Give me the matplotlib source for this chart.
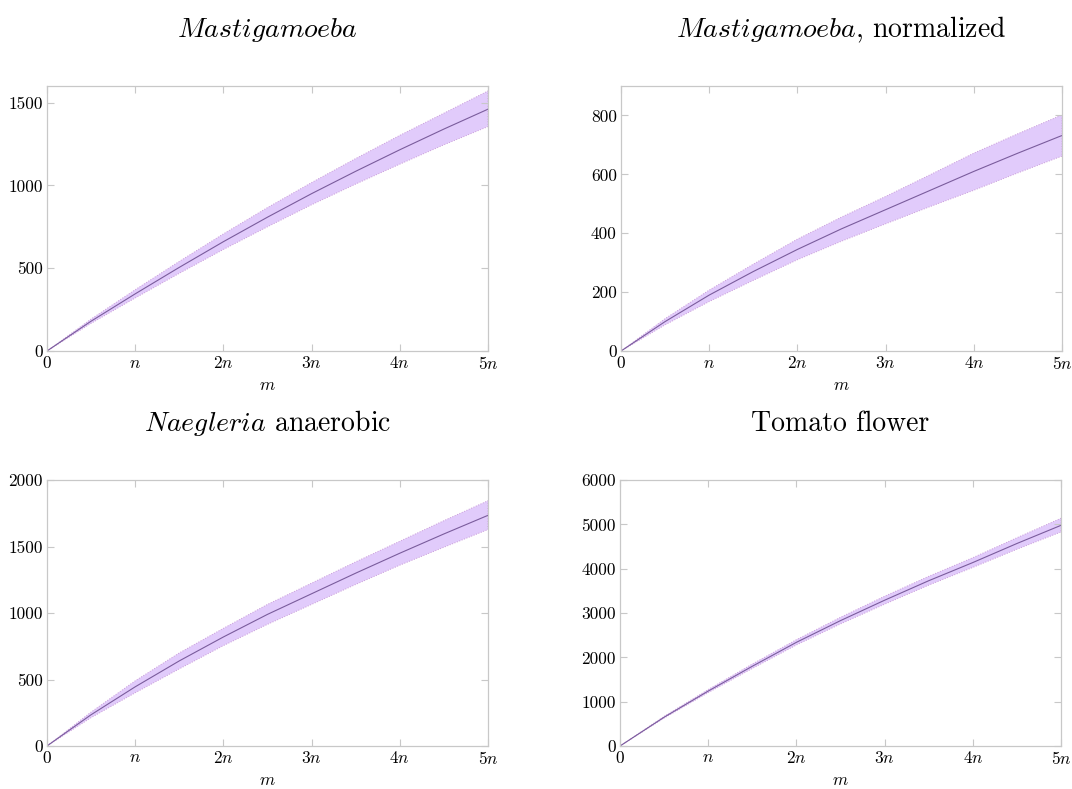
"""Expected count growth against m for four datasets, with spread bands."""

import matplotlib

matplotlib.use("Agg")
import matplotlib.pyplot as plt
from matplotlib.ticker import FuncFormatter, MultipleLocator

plt.rcParams["font.family"] = "cmr10"
plt.rcParams["mathtext.fontset"] = "cm"
plt.rcParams["axes.unicode_minus"] = False

# m measured in multiples of n
M = [0, 0.5, 1, 1.5, 2, 2.5, 3, 3.5, 4, 4.5, 5]

MASTI_MEAN = [0, 180, 345, 505, 660, 808, 950, 1085, 1215, 1340, 1460]
MASTI_HI = [0, 193, 370, 541, 707, 866, 1017, 1162, 1302, 1436, 1570]
MASTI_LO = [0, 167, 320, 469, 613, 750, 883, 1008, 1128, 1245, 1355]

NORM_MEAN = [0, 100, 190, 270, 345, 415, 480, 545, 610, 672, 732]
NORM_HI = [0, 110, 207, 295, 380, 455, 525, 598, 672, 738, 802]
NORM_LO = [0, 89, 168, 240, 310, 373, 432, 490, 546, 605, 662]

NAEG_MEAN = [0, 235, 445, 640, 820, 990, 1145, 1300, 1450, 1595, 1735]
NAEG_HI = [0, 255, 490, 700, 885, 1065, 1225, 1385, 1540, 1695, 1845]
NAEG_LO = [0, 213, 400, 580, 755, 915, 1065, 1215, 1360, 1495, 1628]

TOMATO_MEAN = [0, 650, 1240, 1800, 2340, 2830, 3290, 3730, 4140, 4570, 4980]
TOMATO_HI = [0, 670, 1275, 1850, 2400, 2905, 3380, 3830, 4250, 4700, 5140]
TOMATO_LO = [0, 630, 1205, 1750, 2280, 2755, 3200, 3630, 4030, 4440, 4830]

TITLES = [
    r"$\mathit{Mastigamoeba}$",
    r"$\mathit{Mastigamoeba}$, normalized",
    r"$\mathit{Naegleria}$ anaerobic",
    "Tomato flower",
]
YMAX = [1600, 900, 2000, 6000]
YSTEP = [500, 200, 500, 1000]

LINE_COLOR = "#7a5c9c"
FILL_COLOR = "#e1cbfb"
EDGE_COLOR = "#c99ad8"
FRAME_COLOR = "#c8c8c8"

# axes rectangles in figure fractions (left, bottom, width, height)
RECTS = [
    (0.0438, 0.5551, 0.4114, 0.3359),
    (0.5793, 0.5551, 0.4114, 0.3359),
    (0.0438, 0.0545, 0.4114, 0.3370),
    (0.5784, 0.0545, 0.4114, 0.3370),
]


def m_label(v, _pos):
    k = int(round(v))
    if k == 0:
        return "$0$"
    if k == 1:
        return "$n$"
    return f"${k}n$"


series = [
    (MASTI_MEAN, MASTI_LO, MASTI_HI),
    (NORM_MEAN, NORM_LO, NORM_HI),
    (NAEG_MEAN, NAEG_LO, NAEG_HI),
    (TOMATO_MEAN, TOMATO_LO, TOMATO_HI),
]

fig = plt.figure(figsize=(10.72, 7.89), dpi=100)
for rect, (mean, lo, hi), title, ymax, ystep in zip(RECTS, series, TITLES, YMAX, YSTEP):
    ax = fig.add_axes(rect)
    ax.fill_between(M, lo, hi, facecolor=FILL_COLOR, edgecolor=EDGE_COLOR,
                    linestyle=":", linewidth=0.7, zorder=1)
    ax.plot(M, mean, color=LINE_COLOR, linewidth=0.8, zorder=2)

    ax.set_xlim(0, 5)
    ax.set_ylim(0, ymax)
    ax.xaxis.set_major_locator(MultipleLocator(1))
    ax.xaxis.set_major_formatter(FuncFormatter(m_label))
    ax.yaxis.set_major_locator(MultipleLocator(ystep))
    ax.tick_params(direction="in", length=5, width=0.8, color=FRAME_COLOR,
                   top=True, right=True, labelsize=12.5, pad=3)
    for s in ax.spines.values():
        s.set_color(FRAME_COLOR)
        s.set_linewidth(0.9)
    ax.set_xlabel("$m$", fontsize=12.5, labelpad=4)
    ax.set_title(title, fontsize=20, pad=35)

fig.savefig("out.png", dpi=100)
